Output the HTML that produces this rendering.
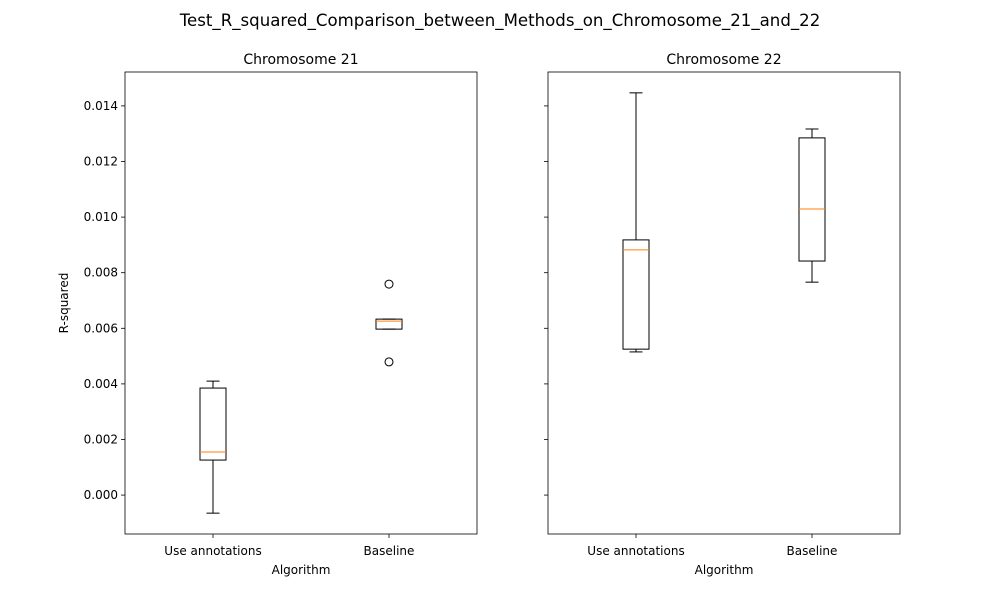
<!DOCTYPE html>
<html><head><meta charset="utf-8"><style>
body{margin:0;background:#fff;font-family:"Liberation Sans","DejaVu Sans",sans-serif}
svg text{font-family:"DejaVu Sans","Liberation Sans",sans-serif}
</style></head><body>
<svg id="fig" width="1000" height="600" xmlns="http://www.w3.org/2000/svg">
<rect width="1000" height="600" fill="#fff"/>
<text x="500" y="26" text-anchor="middle" font-size="16.6">Test_R_squared_Comparison_between_Methods_on_Chromosome_21_and_22</text>
</svg>
<script>
const categories=["Use annotations","Baseline"];
const panelTitles=["Chromosome 21","Chromosome 22"];
// [whiskerLow, q1, median, q3, whiskerHigh]
const chr21Stats=[[-0.00065,0.00126,0.00155,0.00385,0.0041],[0.00597,0.00597,0.00626,0.00633,0.00633]];
const chr22Stats=[[0.00515,0.00525,0.00882,0.00918,0.01447],[0.00766,0.00842,0.01029,0.01285,0.01317]];
const chr21Fliers=[[],[0.00759,0.00479]];
const chr22Fliers=[[],[]];
const yTicks=[0,0.002,0.004,0.006,0.008,0.010,0.012,0.014];
const yMin=-0.0014,yMax=0.01522;
const NS="http://www.w3.org/2000/svg";
const svg=document.getElementById('fig');
function mk(t,a,p){const e=document.createElementNS(NS,t);for(const k in a)e.setAttribute(k,a[k]);(p||svg).appendChild(e);return e;}
const axTop=72,axBot=534;
function y(v){return axBot-(v-yMin)/(yMax-yMin)*(axBot-axTop);}
function drawPanel(left,w,title,stats,fliers,showY,idx){
  const g=mk('g',{});
  
  
  const x=i=>left+w*(0.25+0.5*i);
  const t=mk('text',{x:left+w/2,y:64,'text-anchor':'middle','font-size':14},g);t.textContent=title;
  
  
  yTicks.forEach(v=>{
    const yy=y(v);
    const tk=mk('line',{x1:left-4,x2:left,y1:yy,y2:yy,stroke:'#000','stroke-width':0.8},g);
    
    
    if(showY){const l=mk('text',{x:left-7,y:yy+4,'text-anchor':'end','font-size':12},g);l.textContent=v.toFixed(3);
      
      }
  });
  categories.forEach((c,i)=>{
    const cx=x(i),s=stats[i],bw=13,cw=6.5;
    const tk=mk('line',{x1:cx,x2:cx,y1:axBot,y2:axBot+4,stroke:'#000','stroke-width':0.8},g);
    
    
    const l=mk('text',{x:cx,y:axBot+21,'text-anchor':'middle','font-size':12},g);l.textContent=c;
    
    
    const bg=mk('g',{stroke:'#000','stroke-width':1,fill:'none'},g);
    
    
    mk('line',{x1:cx,x2:cx,y1:y(s[0]),y2:y(s[1])},bg);
    mk('line',{x1:cx,x2:cx,y1:y(s[3]),y2:y(s[4])},bg);
    mk('line',{x1:cx-cw,x2:cx+cw,y1:y(s[0]),y2:y(s[0])},bg);
    mk('line',{x1:cx-cw,x2:cx+cw,y1:y(s[4]),y2:y(s[4])},bg);
    mk('rect',{x:cx-bw,y:y(s[3]),width:2*bw,height:y(s[1])-y(s[3])},bg);
    mk('line',{x1:cx-bw,x2:cx+bw,y1:y(s[2]),y2:y(s[2]),stroke:'#ff7f0e'},bg);
    fliers[i].forEach(f=>{const c2=mk('circle',{cx:cx,cy:y(f),r:4},bg);
      
      });
  });
  const fr=mk('rect',{x:left,y:axTop,width:w,height:axBot-axTop,fill:'none',stroke:'#000','stroke-width':0.8},g);
  
  
  const xl=mk('text',{x:left+w/2,y:574,'text-anchor':'middle','font-size':12},g);xl.textContent='Algorithm';
  
  
  if(showY){const yl=mk('text',{x:0,y:0,'text-anchor':'middle','font-size':12,transform:`translate(68,${(axTop+axBot)/2}) rotate(-90)`},g);yl.textContent='R-squared';
    
    }
}
drawPanel(125,352,panelTitles[0],chr21Stats,chr21Fliers,true,0);
drawPanel(548,352,panelTitles[1],chr22Stats,chr22Fliers,false,1);
</script>
</body></html>
